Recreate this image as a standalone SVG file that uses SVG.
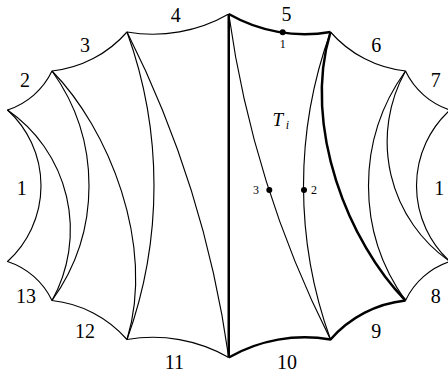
<svg xmlns="http://www.w3.org/2000/svg" width="448" height="381" viewBox="0 0 448 381">
<style>
  .thin{fill:none;stroke:#000;stroke-width:1.15;stroke-linejoin:round}
  .thick{fill:none;stroke:#000;stroke-width:2.5;stroke-linejoin:round}
  .lbl{font-family:"Liberation Serif","Times New Roman",serif;font-size:20px;text-anchor:middle;fill:#000}
  .sm{font-family:"Liberation Serif","Times New Roman",serif;font-size:12px;text-anchor:middle;fill:#000}
  .it{font-family:"Liberation Serif","Times New Roman",serif;font-style:italic;fill:#000}
</style>
<rect width="448" height="381" fill="#fff"/>
<g id="connectors">
  <!-- boundary, thin -->
  <path class="thin" d="M330.5,32 A116,116 0 0 0 405.5,71 A75,75 0 0 0 450,110 A102.4,102.4 0 0 0 450,261.5 A75,75 0 0 0 405.5,300.5"/>
  <path class="thin" d="M228.75,357.5 A152.7,152.7 0 0 0 127,339.5 A116,116 0 0 0 52,300.5 A75,75 0 0 0 7.5,261.5 A102.4,102.4 0 0 0 7.5,110 A75,75 0 0 0 52,71 A116,116 0 0 0 127,32 A152.7,152.7 0 0 0 228.75,14"/>
  <!-- boundary, thick -->
  <path class="thick" d="M228.75,14 A152.7,152.7 0 0 0 330.5,32"/>
  <path class="thick" d="M405.5,300.5 A116,116 0 0 0 330.5,339.5 A152.7,152.7 0 0 0 228.75,357.5"/>
  <!-- diagonals left -->
  <path class="thin" d="M7.5,110 A145.5,145.5 0 0 1 52,300.5"/>
  <path class="thin" d="M52,71 A196.4,196.4 0 0 1 52,300.5"/>
  <path class="thin" d="M52,71 C108,127.8 156,244.5 127,339.5"/>
  <path class="thin" d="M127,32 A451.3,451.3 0 0 1 127,339.5"/>
  <path class="thin" d="M127,32 A1045,1045 0 0 1 228.75,357.5"/>
  <!-- diagonals right -->
  <path class="thin" d="M450,261.5 A145.5,145.5 0 0 1 405.5,71"/>
  <path class="thin" d="M405.5,300.5 A196.4,196.4 0 0 1 405.5,71"/>
  <path class="thin" d="M330.5,339.5 A451.3,451.3 0 0 1 330.5,32"/>
  <path class="thin" d="M330.5,339.5 A1045,1045 0 0 1 228.75,14"/>
  <!-- thick diagonals -->
  <path class="thick" d="M405.5,300.5 C349.5,243.7 301.5,127 330.5,32"/>
  <path class="thick" d="M228.75,14 L228.75,357.5"/>
</g>
<g id="side-labels">
  <text class="lbl" x="21.7" y="195">1</text>
  <text class="lbl" x="25" y="86.6">2</text>
  <text class="lbl" x="85" y="52.3">3</text>
  <text class="lbl" x="175.7" y="21.6">4</text>
  <text class="lbl" x="286.5" y="21">5</text>
  <text class="lbl" x="376.3" y="52.3">6</text>
  <text class="lbl" x="435.7" y="86.6">7</text>
  <text class="lbl" x="435.7" y="303.1">8</text>
  <text class="lbl" x="376.3" y="338.3">9</text>
  <text class="lbl" x="287" y="369">10</text>
  <text class="lbl" x="174.3" y="368.9">11</text>
  <text class="lbl" x="85" y="338.3">12</text>
  <text class="lbl" x="26" y="303.3">13</text>
  <text class="lbl" x="439.3" y="194.9">1</text>
</g>
<g id="Ti">
  <text class="it" x="272.5" y="126" font-size="19">T</text>
  <text class="it" x="287.5" y="128.5" font-size="12" text-anchor="middle">i</text>
</g>
<g id="point-1">
  <circle cx="282.7" cy="32.3" r="3"/>
  <text class="sm" x="282.7" y="48.3">1</text>
</g>
<g id="point-3">
  <circle cx="269.3" cy="190" r="3"/>
  <text class="sm" x="256" y="194.2">3</text>
</g>
<g id="point-2">
  <circle cx="304" cy="190" r="3"/>
  <text class="sm" x="314" y="194.2">2</text>
</g>
</svg>
